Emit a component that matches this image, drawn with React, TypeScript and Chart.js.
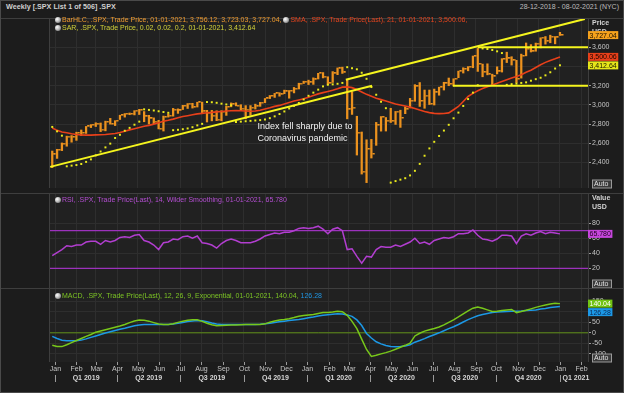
import React, { useEffect, useRef } from 'react';
import { Chart, registerables } from 'chart.js';

Chart.register(...registerables);

// ---------- data (weekly bars, dated by week-ending Friday) ----------
const weekDates: string[] = [
  '2018-12-28',
  '2019-01-04', '2019-01-11', '2019-01-18', '2019-01-25', '2019-02-01', '2019-02-08', '2019-02-15', '2019-02-22',
  '2019-03-01', '2019-03-08', '2019-03-15', '2019-03-22', '2019-03-29', '2019-04-05', '2019-04-12', '2019-04-19',
  '2019-04-26', '2019-05-03', '2019-05-10', '2019-05-17', '2019-05-24', '2019-05-31', '2019-06-07', '2019-06-14',
  '2019-06-21', '2019-06-28', '2019-07-05', '2019-07-12', '2019-07-19', '2019-07-26', '2019-08-02', '2019-08-09',
  '2019-08-16', '2019-08-23', '2019-08-30', '2019-09-06', '2019-09-13', '2019-09-20', '2019-09-27', '2019-10-04',
  '2019-10-11', '2019-10-18', '2019-10-25', '2019-11-01', '2019-11-08', '2019-11-15', '2019-11-22', '2019-11-29',
  '2019-12-06', '2019-12-13', '2019-12-20', '2019-12-27',
  '2020-01-03', '2020-01-10', '2020-01-17', '2020-01-24', '2020-01-31', '2020-02-07', '2020-02-14', '2020-02-21',
  '2020-02-28', '2020-03-06', '2020-03-13', '2020-03-20', '2020-03-27', '2020-04-03', '2020-04-10', '2020-04-17',
  '2020-04-24', '2020-05-01', '2020-05-08', '2020-05-15', '2020-05-22', '2020-05-29', '2020-06-05', '2020-06-12',
  '2020-06-19', '2020-06-26', '2020-07-03', '2020-07-10', '2020-07-17', '2020-07-24', '2020-07-31', '2020-08-07',
  '2020-08-14', '2020-08-21', '2020-08-28', '2020-09-04', '2020-09-11', '2020-09-18', '2020-09-25', '2020-10-02',
  '2020-10-09', '2020-10-16', '2020-10-23', '2020-10-30', '2020-11-06', '2020-11-13', '2020-11-20', '2020-11-27',
  '2020-12-04', '2020-12-11', '2020-12-18', '2020-12-25',
  '2021-01-01',
];

const highs: number[] = [
  2520, 2538, 2604, 2675, 2681, 2716, 2739, 2776, 2795, 2814,
  2812, 2831, 2860, 2836, 2893, 2910, 2916, 2940, 2954, 2931,
  2892, 2865, 2840, 2884, 2905, 2964, 2959, 2996, 3014, 3017,
  3028, 3029, 2944, 2943, 2939, 2940, 2985, 3021, 3022, 3002,
  2993, 2993, 3008, 3027, 3067, 3098, 3120, 3127, 3154, 3150,
  3182, 3226, 3247, 3258, 3282, 3329, 3337, 3293, 3347, 3385,
  3393, 3259, 3137, 2882, 2718, 2637, 2641, 2818, 2879, 2869,
  2965, 2932, 2945, 2980, 3068, 3211, 3233, 3155, 3155, 3165,
  3185, 3236, 3280, 3272, 3352, 3387, 3399, 3509, 3588, 3425,
  3428, 3320, 3397, 3482, 3549, 3502, 3464, 3529, 3645, 3628,
  3644, 3699, 3712, 3726, 3712, 3756.12,
];
const lows: number[] = [
  2347, 2443, 2524, 2570, 2612, 2631, 2681, 2703, 2764, 2775,
  2722, 2730, 2800, 2785, 2848, 2873, 2898, 2896, 2900, 2825,
  2801, 2805, 2750, 2728, 2873, 2883, 2912, 2952, 2963, 2967,
  2978, 2914, 2822, 2834, 2836, 2834, 2891, 2980, 2990, 2945,
  2855, 2892, 2957, 2985, 3023, 3066, 3078, 3091, 3117, 3070,
  3125, 3166, 3223, 3212, 3214, 3270, 3281, 3214, 3234, 3315,
  3328, 2855, 2901, 2478, 2280, 2191, 2447, 2579, 2727, 2728,
  2817, 2797, 2766, 2909, 2969, 3038, 2984, 2965, 3004, 2999,
  3101, 3155, 3200, 3198, 3284, 3332, 3355, 3387, 3349, 3293,
  3313, 3209, 3323, 3342, 3441, 3415, 3233, 3279, 3511, 3551,
  3559, 3594, 3633, 3647, 3636, 3723.03,
];
const closes: number[] = [
  2486, 2532, 2596, 2671, 2665, 2707, 2708, 2776, 2793, 2804,
  2743, 2822, 2801, 2834, 2893, 2907, 2905, 2940, 2946, 2881,
  2860, 2826, 2752, 2873, 2887, 2950, 2942, 2990, 3014, 2977,
  3026, 2932, 2919, 2889, 2847, 2926, 2979, 3007, 2992, 2962,
  2952, 2970, 2986, 3023, 3067, 3093, 3120, 3110, 3141, 3146,
  3169, 3221, 3240, 3235, 3265, 3330, 3295, 3226, 3328, 3380,
  3338, 2954, 2972, 2711, 2305, 2541, 2489, 2790, 2875, 2837,
  2831, 2930, 2864, 2955, 3044, 3194, 3041, 3098, 3009, 3130,
  3185, 3225, 3216, 3271, 3351, 3373, 3397, 3508, 3427, 3341,
  3319, 3298, 3348, 3477, 3484, 3465, 3270, 3509, 3585, 3558,
  3638, 3699, 3663, 3709, 3703, 3727.04,
];
const sma21: number[] = [
  2760, 2735, 2718, 2710, 2700, 2692, 2688, 2686, 2686, 2688,
  2689, 2692, 2697, 2703, 2712, 2725, 2740, 2752, 2765, 2777,
  2787, 2800, 2815, 2830, 2840, 2852, 2866, 2879, 2888, 2898,
  2907, 2912, 2918, 2922, 2928, 2932, 2936, 2940, 2942, 2940,
  2936, 2934, 2936, 2945, 2958, 2970, 2985, 2995, 3010, 3025,
  3040, 3052, 3065, 3080, 3097, 3115, 3128, 3140, 3153, 3168,
  3185, 3188, 3180, 3160, 3135, 3110, 3090, 3070, 3055, 3040,
  3025, 3010, 2999, 2988, 2977, 2962, 2946, 2932, 2920, 2912,
  2909, 2910, 2917, 2950, 2984, 3035, 3088, 3120, 3148, 3170,
  3190, 3207, 3225, 3245, 3263, 3280, 3295, 3315, 3340, 3361,
  3390, 3418, 3443, 3462, 3480, 3500.06,
];
const sar: number[] = [
  2771, 2725, 2680, 2361, 2368, 2374, 2385, 2407, 2433, 2475,
  2515, 2558, 2597, 2656, 2689, 2731, 2761, 2794, 2826, 2954,
  2948, 2942, 2934, 2926, 2918, 2737, 2741, 2747, 2755, 2768,
  2787, 2803, 3030, 3028, 3022, 3013, 3005, 2997, 2822, 2826,
  2830, 2834, 2838, 2842, 2849, 2862, 2881, 2905, 2932, 2963,
  2990, 3020, 3057, 3095, 3128, 3159, 3193, 3210, 3214, 3220,
  3229, 3393, 3382, 3371, 3335, 3272, 3186, 3106, 3033, 2966,
  2191, 2207, 2222, 2237, 2266, 2314, 2386, 2471, 2547, 2616,
  2677, 2733, 2793, 2861, 2920, 2989, 3061, 3128, 3205, 3588,
  3582, 3572, 3558, 3540, 3209, 3216, 3222, 3229, 3235, 3252,
  3268, 3283, 3308, 3340, 3379, 3412.64,
];
const rsi14: number[] = [
  37, 41, 45, 50, 49, 51, 51, 55, 56, 56,
  52, 57, 55, 57, 61, 62, 61, 64, 65, 57,
  55, 51, 45, 54, 55, 59, 58, 62, 63, 60,
  63, 54, 53, 51, 47, 53, 57, 59, 57, 54,
  54, 54, 56, 59, 63, 65, 67, 66, 68, 68,
  70, 73, 74, 73, 74, 76, 72, 66, 72, 74,
  70, 45, 46, 36, 27, 36, 35, 45, 49, 48,
  48, 51, 49, 52, 55, 60, 53, 55, 52, 57,
  59, 61, 60, 62, 66, 66, 67, 71, 64, 59,
  58, 56, 59, 64, 64, 63, 53, 63, 66, 64,
  67, 69, 66, 68, 67, 65.78,
];
const macdLine: number[] = [
  -60, -66, -66, -57, -47, -37, -27, -17, -8, 3,
  9, 15, 21, 27, 33, 40, 49, 57, 61, 60,
  56, 49, 42, 40, 40, 44, 50, 56, 60, 63,
  63, 55, 46, 39, 34, 35, 36, 37, 38, 39,
  40, 40, 40, 40, 43, 51, 57, 61, 64, 68,
  73, 79, 83, 86, 88, 93, 97, 98, 100, 103,
  101, 84, 55, 20, -30, -80, -113, -108, -101, -95,
  -88, -79, -69, -60, -50, -15, -2, 8, 15, 21,
  28, 38, 50, 62, 76, 91, 105, 118, 124, 118,
  110, 102, 104, 107, 110, 112, 97, 102, 108, 115,
  122, 128, 133, 138, 142, 140.04,
];
const signalLine: number[] = [
  -17, -27, -36, -38, -38, -38, -35, -29, -22, -15,
  -8, -1, 5, 11, 17, 22, 28, 34, 38, 40,
  40, 40, 40, 40, 40, 42, 46, 50, 54, 57,
  59, 58, 53, 47, 42, 40, 40, 40, 40, 40,
  40, 40, 40, 41, 43, 46, 50, 53, 56, 59,
  62, 64, 68, 72, 76, 81, 84, 87, 89, 91,
  90, 86, 79, 62, 35, -3, -25, -43, -53, -61,
  -66, -67, -66, -63, -57, -45, -37, -28, -18, -9,
  0, 10, 20, 29, 40, 52, 63, 73, 82, 88,
  93, 97, 100, 101, 102, 103, 104, 105, 107, 108,
  110, 114, 117, 121, 124, 126.28,
];

// drawn trend lines / levels: [date, price]
const lowerTrend: [string, number][] = [['2018-12-25', 2355], ['2020-04-04', 3200]];
const upperTrend: [string, number][] = [['2020-02-26', 3262], ['2021-02-06', 3895]];
const resistance: [string, number][] = [['2020-09-04', 3600], ['2021-02-12', 3600]];
const support: [string, number][] = [['2020-07-30', 3200], ['2021-02-12', 3200]];

const priceTicks = [2400, 2600, 2800, 3000, 3200, 3400, 3600];
const rsiTicks = [20, 40, 60, 80];
const rsiBands = [70, 20];
const macdTicks = [-100, -50, 0, 50, 100, 150];
const monthNames = ['Jan', 'Feb', 'Mar', 'Apr', 'May', 'Jun', 'Jul', 'Aug', 'Sep', 'Oct', 'Nov', 'Dec'];
const annotationLines = ['Index fell sharply due to', 'Coronavirus pandemic'];
const annotationAnchor: [string, number] = ['2019-10-21', 2775];
const lastDateLabel = '01-01-2021';

// ---------- styling ----------
const FONT = '"Liberation Sans", Arial, sans-serif';
const PAGE_BG = '#1c1c1c';
const PLOT_BG = '#212121';
const GRID = '#2e2e2e';
const SEP = '#3e3e3e';
const TICK_TXT = '#c4c4c4';
const ORANGE = '#ec921e';
const RED = '#e8401a';
const YELLOW = '#eaea1c';
const PURPLE = '#b23ed0';
const GREEN = '#78c81a';
const BLUE = '#1c98e6';

const EPOCH = Date.UTC(2019, 0, 1);
const toDay = (s: string) => {
  const [y, m, d] = s.split('-').map(Number);
  return (Date.UTC(y, m - 1, d) - EPOCH) / 86400000;
};
const dayOf = (y: number, m: number, d: number) => (Date.UTC(y, m, d) - EPOCH) / 86400000;
const X_MIN = -8.7;
const X_MAX = 771.6;

const weekDays = weekDates.map(toDay);
const pts = (vals: number[]) => weekDays.map((x, i) => ({ x, y: vals[i] }));
const seg = (p: [string, number][]) => p.map(([d, v]) => ({ x: toDay(d), y: v }));
const last = weekDays.length - 1;

const fmt2 = (v: number) => v.toLocaleString('en-US', { minimumFractionDigits: 2, maximumFractionDigits: 2 });

const monthStarts: number[] = [];
for (let y = 2018; y <= 2021; y++) for (let m = 0; m < 12; m++) {
  const d = dayOf(y, m, 1);
  if (d > X_MIN && d < X_MAX) monthStarts.push(d);
}

type ValueTag = { v: number; text: string; bg: string; fg: string };

function panelPlugin(tags: ValueTag[], header?: string[]) {
  return {
    id: 'panelDecor',
    beforeDraw(chart: any) {
      const { ctx, chartArea: a } = chart;
      ctx.save();
      ctx.fillStyle = PLOT_BG;
      ctx.fillRect(a.left, a.top, a.right - a.left, a.bottom - a.top);
      ctx.restore();
    },
    afterDraw(chart: any) {
      const { ctx, chartArea: a, width } = chart;
      const ys = chart.scales.y;
      ctx.save();
      ctx.strokeStyle = SEP;
      ctx.lineWidth = 1;
      ctx.beginPath();
      ctx.moveTo(0, a.top + 0.5); ctx.lineTo(width, a.top + 0.5);
      ctx.moveTo(a.left + 0.5, a.top); ctx.lineTo(a.left + 0.5, a.bottom);
      ctx.moveTo(a.right + 0.5, a.top); ctx.lineTo(a.right + 0.5, a.bottom);
      ctx.stroke();
      ctx.font = `7px ${FONT}`;
      ctx.textBaseline = 'middle';
      if (header) {
        ctx.font = `bold 7px ${FONT}`;
        ctx.fillStyle = '#d2d2d2';
        header.forEach((h, i) => ctx.fillText(h, a.right + 4, a.top + 5.5 + i * 8.5));
      }
      // Auto box
      ctx.font = `7px ${FONT}`;
      const by = a.bottom - 4;
      ctx.fillStyle = '#3a3a3a';
      ctx.fillRect(a.right + 4.5, by - 4, 19, 8);
      ctx.strokeStyle = '#9a9a9a';
      ctx.strokeRect(a.right + 4.5, by - 4, 19, 8);
      ctx.fillStyle = '#e0e0e0';
      ctx.fillText('Auto', a.right + 6, by + 0.5);
      // value tags
      const placed = tags
        .map(t => ({ ...t, y: ys.getPixelForValue(t.v) }))
        .sort((p, q) => p.y - q.y);
      for (let i = 1; i < placed.length; i++) {
        if (placed[i].y - placed[i - 1].y < 8.5) placed[i].y = placed[i - 1].y + 8.5;
      }
      placed.forEach(t => {
        const w = ctx.measureText(t.text).width + 3;
        ctx.fillStyle = t.bg;
        ctx.fillRect(a.right, t.y - 4, w, 8);
        ctx.fillStyle = t.fg;
        ctx.fillText(t.text, a.right + 1.5, t.y + 0.5);
      });
      ctx.restore();
    },
  };
}

const annotationPlugin = {
  id: 'annot',
  afterDatasetsDraw(chart: any) {
    const { ctx } = chart;
    const x = chart.scales.x.getPixelForValue(toDay(annotationAnchor[0]));
    const y = chart.scales.y.getPixelForValue(annotationAnchor[1]);
    ctx.save();
    ctx.font = `9px ${FONT}`;
    ctx.fillStyle = '#f2f2f2';
    ctx.textBaseline = 'middle';
    annotationLines.forEach((t, i) => ctx.fillText(t, x, y + i * 11.5));
    ctx.restore();
  },
};

const timeAxisPlugin = {
  id: 'timeAxis',
  afterDraw(chart: any) {
    const { ctx, chartArea: a } = chart;
    const xs = chart.scales.x;
    ctx.save();
    ctx.strokeStyle = '#9a9a9a';
    ctx.lineWidth = 1;
    ctx.fillStyle = TICK_TXT;
    ctx.textAlign = 'center';
    ctx.textBaseline = 'middle';
    ctx.font = `7px ${FONT}`;
    monthStarts.forEach(d => {
      const px = Math.round(xs.getPixelForValue(d)) + 0.5;
      ctx.beginPath(); ctx.moveTo(px, a.bottom); ctx.lineTo(px, a.bottom + 3); ctx.stroke();
      const dt = new Date(EPOCH + d * 86400000);
      ctx.fillText(monthNames[dt.getUTCMonth()], px, a.bottom + 7.5);
    });
    ctx.font = `bold 7px ${FONT}`;
    ctx.fillStyle = '#d6d6d6';
    for (let y = 2018; y <= 2021; y++) for (let q = 0; q < 4; q++) {
      const s = dayOf(y, q * 3, 1);
      const e = dayOf(y, q * 3 + 3, 1);
      if (s < X_MIN || s >= X_MAX) continue;
      const px = Math.round(xs.getPixelForValue(s)) + 0.5;
      ctx.beginPath(); ctx.moveTo(px, a.bottom + 13); ctx.lineTo(px, a.bottom + 20); ctx.stroke();
      const c = (s + Math.min(e, X_MAX)) / 2;
      ctx.fillText(`Q${q + 1} ${y}`, xs.getPixelForValue(c) + (e > X_MAX ? 2 : 0), a.bottom + 16);
    }
    ctx.restore();
  },
};

function scalesFor(yMin: number, yMax: number, yTicks: number[], fmt: (v: number) => string) {
  return {
    x: {
      type: 'linear', min: X_MIN, max: X_MAX, offset: false,
      afterBuildTicks: (s: any) => { s.ticks = monthStarts.map(v => ({ value: v })); },
      afterFit: (s: any) => { s.height = 0; s.paddingLeft = 0; s.paddingRight = 0; },
      ticks: { display: false },
      grid: { color: GRID, drawTicks: false, offset: false },
      border: { display: false },
    },
    y: {
      position: 'right', min: yMin, max: yMax,
      afterBuildTicks: (s: any) => { s.ticks = yTicks.map(v => ({ value: v })); },
      afterFit: (s: any) => { s.width = 36; s.paddingTop = 0; s.paddingBottom = 0; },
      ticks: { color: TICK_TXT, font: { family: FONT, size: 7 }, padding: 1, callback: (v: any) => fmt(Number(v)) },
      grid: { color: GRID, tickColor: '#9a9a9a', tickLength: 3, drawTicks: true },
      border: { display: false },
    },
  };
}

const common = (padBottom: number) => ({
  animation: false,
  responsive: false,
  maintainAspectRatio: false,
  events: [],
  layout: { padding: { left: 49, right: 0, top: 0, bottom: padBottom } },
  plugins: { legend: { display: false }, tooltip: { enabled: false } },
});

const Icon = () => (
  <span style={{
    display: 'inline-block', width: 6, height: 6, borderRadius: 3, marginRight: 1, verticalAlign: '-0.5px',
    background: 'radial-gradient(circle at 35% 35%, #ffffff 0%, #bdbdbd 45%, #555 100%)',
  }} />
);

const legendStyle = (top: number, left: number): React.CSSProperties => ({
  position: 'absolute', left, top, fontSize: 7, lineHeight: '9px', whiteSpace: 'pre', fontFamily: FONT,
});

export default function App() {
  const mainRef = useRef<HTMLCanvasElement>(null);
  const rsiRef = useRef<HTMLCanvasElement>(null);
  const macdRef = useRef<HTMLCanvasElement>(null);

  useEffect(() => {
    document.body.style.margin = '0';
    document.body.style.background = PAGE_BG;

    const tick = document.createElement('canvas');
    tick.width = 8; tick.height = 2;
    const tctx = tick.getContext('2d')!;
    tctx.fillStyle = ORANGE;
    tctx.fillRect(5, 0, 2.5, 1.5);

    const charts: Chart[] = [];
    const lineDs = (label: string, data: any[], color: string, width: number, order: number) => ({
      type: 'line', label, data, borderColor: color, borderWidth: width, pointRadius: 0, order, tension: 0, fill: false,
    });

    charts.push(new Chart(mainRef.current!, {
      type: 'bar',
      data: {
        datasets: [
          lineDs('lowerTrend', seg(lowerTrend), '#f5f51e', 2, 0),
          lineDs('upperTrend', seg(upperTrend), '#f5f51e', 2, 0),
          lineDs('resistance', seg(resistance), '#f5f51e', 2, 0),
          lineDs('support', seg(support), '#f5f51e', 2, 0),
          {
            type: 'line', label: 'SAR', data: pts(sar), showLine: false, pointStyle: 'rect', pointRadius: 1.4,
            pointBackgroundColor: YELLOW, pointBorderWidth: 0, order: 1,
          },
          lineDs('SMA', pts(sma21), RED, 1.6, 2),
          {
            type: 'line', label: 'Close', data: pts(closes), showLine: false, pointStyle: tick, pointRadius: 4, order: 3,
          },
          {
            type: 'bar', label: 'HL', data: weekDays.map((x, i) => ({ x, y: [lows[i], highs[i]] })),
            backgroundColor: ORANGE, barThickness: 1.6, order: 4,
          },
        ],
      } as any,
      options: { ...common(0), scales: scalesFor(2135, 3905, priceTicks, v => v.toLocaleString('en-US')) } as any,
      plugins: [
        panelPlugin([
          { v: closes[last], text: fmt2(closes[last]), bg: '#f6a21c', fg: '#1a1000' },
          { v: sma21[last], text: fmt2(sma21[last]), bg: '#e8401a', fg: '#1a0500' },
          { v: sar[last], text: fmt2(sar[last]), bg: '#e6e61a', fg: '#1a1a00' },
        ], ['Price', 'USD']),
        annotationPlugin,
      ],
    }));

    charts.push(new Chart(rsiRef.current!, {
      type: 'line',
      data: {
        datasets: [
          ...rsiBands.map(b => lineDs(`band${b}`, [{ x: X_MIN, y: b }, { x: X_MAX, y: b }], '#9c32bc', 1.2, 1)),
          lineDs('RSI', pts(rsi14), PURPLE, 1.5, 0),
        ],
      } as any,
      options: { ...common(0), scales: scalesFor(-6, 120, rsiTicks, v => String(v)) } as any,
      plugins: [panelPlugin([
        { v: rsi14[last], text: rsi14[last].toFixed(3), bg: '#c646dc', fg: '#200020' },
      ], ['Value', 'USD'])],
    }));

    charts.push(new Chart(macdRef.current!, {
      type: 'line',
      data: {
        datasets: [
          lineDs('zero', [{ x: X_MIN, y: 0 }, { x: X_MAX, y: 0 }], '#5f8f16', 1, 2),
          lineDs('Signal', pts(signalLine), BLUE, 1.5, 1),
          lineDs('MACD', pts(macdLine), GREEN, 1.5, 0),
        ],
      } as any,
      options: { ...common(31), scales: scalesFor(-140, 215, macdTicks, v => String(v)) } as any,
      plugins: [panelPlugin([
        { v: macdLine[last], text: fmt2(macdLine[last]), bg: '#72c414', fg: '#ffffff' },
        { v: signalLine[last], text: fmt2(signalLine[last]), bg: '#1c98e6', fg: '#0a2a55' },
      ]), timeAxisPlugin],
    }));

    return () => charts.forEach(c => c.destroy());
  }, []);

  const abs: React.CSSProperties = { position: 'absolute', left: 0 };
  return (
    <div style={{ position: 'relative', width: 624, height: 393, background: PAGE_BG, overflow: 'hidden', fontFamily: FONT }}>
      <div style={{ position: 'absolute', left: 6, top: 2, fontSize: 7.2, fontWeight: 'bold', color: '#d0d0d0', lineHeight: '9px' }}>
        Weekly [.SPX List 1 of 506] .SPX
      </div>
      <div style={{ position: 'absolute', right: 5, top: 2, fontSize: 7, color: '#bdbdbd', lineHeight: '9px' }}>
        28-12-2018 - 08-02-2021 (NYC)
      </div>
      <canvas ref={mainRef} width={624} height={180} style={{ ...abs, top: 13 }} />
      <canvas ref={rsiRef} width={624} height={95} style={{ ...abs, top: 193 }} />
      <canvas ref={macdRef} width={624} height={105} style={{ ...abs, top: 288 }} />

      <div style={legendStyle(15, 55)}>
        <Icon />
        <span style={{ color: '#ee9a2e' }}>{`BarHLC, .SPX, Trade Price, ${lastDateLabel}, ${fmt2(highs[last])}, ${fmt2(lows[last])}, ${fmt2(closes[last])}, `}</span>
        <Icon />
        <span style={{ color: '#e4441e' }}>{`SMA, .SPX, Trade Price(Last), 21, ${lastDateLabel}, ${fmt2(sma21[last])},`}</span>
      </div>
      <div style={legendStyle(23, 55)}>
        <Icon />
        <span style={{ color: '#d2d23a' }}>{`SAR, .SPX, Trade Price, 0.02, 0.02, 0.2, ${lastDateLabel}, ${fmt2(sar[last])}`}</span>
      </div>
      <div style={legendStyle(195, 55)}>
        <Icon />
        <span style={{ color: '#b44ed2' }}>{`RSI, .SPX, Trade Price(Last), 14, Wilder Smoothing, ${lastDateLabel}, ${rsi14[last].toFixed(3)}`}</span>
      </div>
      <div style={legendStyle(291, 55)}>
        <Icon />
        <span style={{ color: '#7cc424' }}>{`MACD, .SPX, Trade Price(Last), 12, 26, 9, Exponential, ${lastDateLabel}, ${fmt2(macdLine[last])}, `}</span>
        <span style={{ color: '#2094e0' }}>{fmt2(signalLine[last])}</span>
      </div>
      <div style={{ position: 'absolute', inset: 0, border: '1px solid #4a4a4a', pointerEvents: 'none' }} />
    </div>
  );
}
